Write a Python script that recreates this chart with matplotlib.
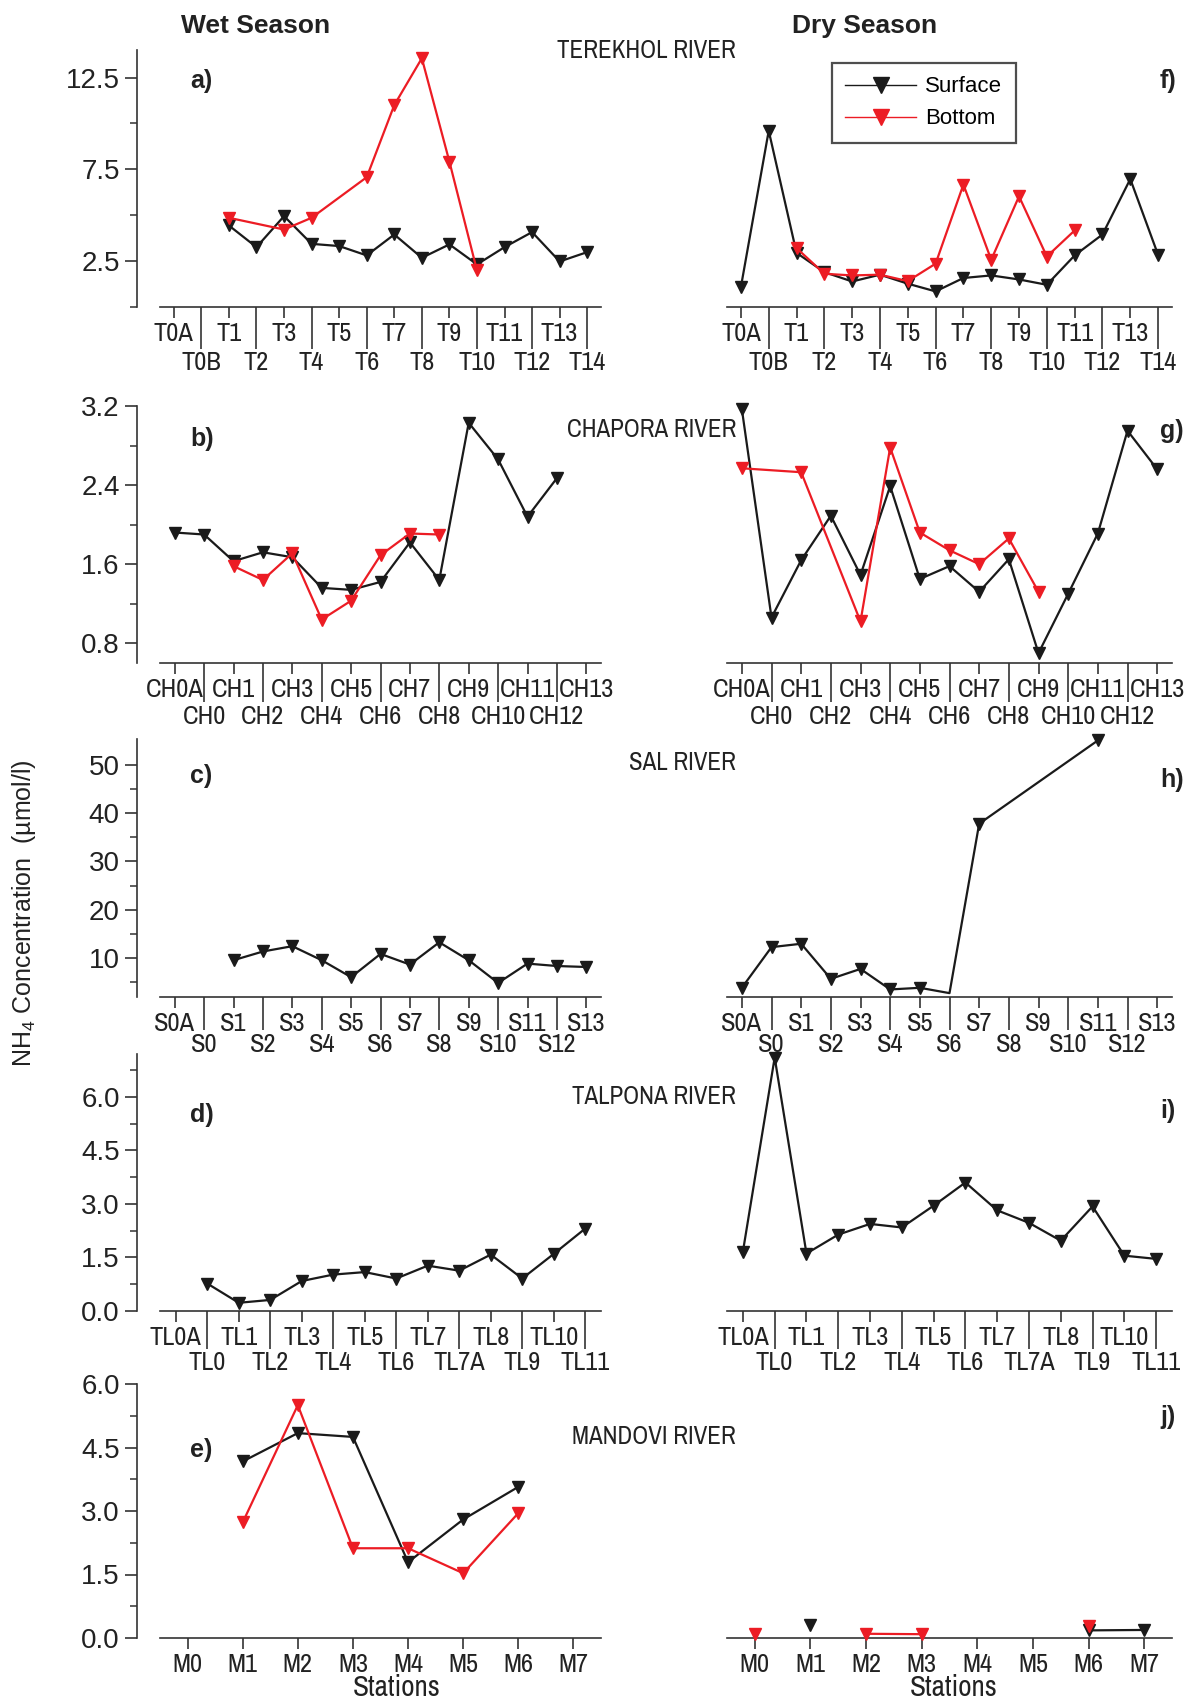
#!/usr/bin/env python3
"""
NH4 concentration along five estuaries - wet vs dry season panels
"""

import numpy as np
import matplotlib
matplotlib.use('Agg')
import matplotlib.pyplot as plt
from matplotlib import font_manager
from matplotlib.lines import Line2D
from matplotlib.ticker import FixedLocator, FixedFormatter

nan = np.nan

# station labels
T_STATIONS = ['T0A', 'T0B', 'T1', 'T2', 'T3', 'T4', 'T5', 'T6', 'T7', 'T8',
              'T9', 'T10', 'T11', 'T12', 'T13', 'T14']
CH_STATIONS = ['CH0A', 'CH0', 'CH1', 'CH2', 'CH3', 'CH4', 'CH5', 'CH6', 'CH7',
               'CH8', 'CH9', 'CH10', 'CH11', 'CH12', 'CH13']
S_STATIONS = ['S0A', 'S0', 'S1', 'S2', 'S3', 'S4', 'S5', 'S6', 'S7', 'S8',
              'S9', 'S10', 'S11', 'S12', 'S13']
TL_STATIONS = ['TL0A', 'TL0', 'TL1', 'TL2', 'TL3', 'TL4', 'TL5', 'TL6', 'TL7',
               'TL7A', 'TL8', 'TL9', 'TL10', 'TL11']
M_STATIONS = ['M0', 'M1', 'M2', 'M3', 'M4', 'M5', 'M6', 'M7']

# Terekhol
TEREKHOL_WET_SURF = [nan, nan, 4.44, 3.26, 4.95, 3.44, 3.32, 2.81, 3.95, 2.68, 3.41, 2.32, 3.26, 4.08, 2.48, 2.99]
TEREKHOL_WET_BOT = [nan, nan, 4.86, nan, 4.22, 4.86, nan, 7.07, 11.0, 13.55, 7.92, 1.99, nan, nan, nan, nan]
TEREKHOL_DRY_SURF = [1.09, 9.60, 2.95, 1.90, 1.39, 1.76, 1.27, 0.85, 1.58, 1.72, 1.50, 1.21, 2.81, 3.95, 6.97, 2.84]
TEREKHOL_DRY_BOT = [nan, nan, 3.21, 1.81, 1.72, 1.76, 1.41, 2.36, 6.67, 2.57, 6.03, 2.75, 4.17, nan, nan, nan]

# Chapora
CHAPORA_WET_SURF = [1.92, 1.90, 1.63, 1.72, 1.67, 1.36, 1.34, 1.42, 1.82, 1.44, 3.03, 2.66, 2.08, 2.47, nan]
CHAPORA_WET_BOT = [nan, nan, 1.58, 1.44, 1.71, 1.04, 1.23, 1.69, 1.91, 1.90, nan, nan, nan, nan, nan]
CHAPORA_DRY_SURF = [3.17, 1.06, 1.64, 2.09, 1.49, 2.39, 1.45, 1.58, 1.32, 1.65, 0.70, 1.30, 1.91, 2.95, 2.56]
CHAPORA_DRY_BOT = [2.57, nan, 2.53, nan, 1.02, 2.78, 1.92, 1.74, 1.60, 1.86, 1.32, nan, nan, nan, nan]

# Sal (surface only)
SAL_WET_SURF = [nan, nan, 9.6, 11.4, 12.5, 9.6, 6.1, 10.9, 8.7, 13.3, 9.6, 4.9, 8.9, 8.4, 8.2]
SAL_DRY_SURF = [3.9, 12.3, 13.0, 5.75, 7.8, 3.56, 3.9, 2.8, 37.8, nan, nan, nan, 55.0, nan, nan]

# Talpona (surface only)
TALPONA_WET_SURF = [nan, 0.77, 0.23, 0.31, 0.84, 1.02, 1.09, 0.91, 1.27, 1.13, 1.58, 0.91, 1.60, 2.31]
TALPONA_DRY_SURF = [1.66, 7.1, 1.61, 2.14, 2.44, 2.34, 2.95, 3.60, 2.82, 2.47, 1.97, 2.93, 1.55, 1.46]

# Mandovi
MANDOVI_WET_SURF = [nan, 4.17, 4.84, 4.75, 1.79, 2.80, 3.57, nan]
MANDOVI_WET_BOT = [nan, 2.73, 5.50, 2.12, 2.12, 1.53, 2.95, nan]
MANDOVI_DRY_SURF = [nan, 0.31, nan, nan, nan, nan, 0.18, 0.19]
MANDOVI_DRY_BOT = [0.10, nan, 0.10, 0.09, nan, nan, 0.29, nan]

BLACK = '#1a1a1a'
RED = '#ec1c24'

FIG_W, FIG_H = 1200, 1700

SANS = 'Liberation Sans'
# 좁은 글꼴이 있으면 사용, 없으면 일반 글꼴을 작게
narrow_names = [f.name for f in font_manager.fontManager.ttflist
                if 'Narrow' in f.name or 'Condensed' in f.name]
if narrow_names:
    NARROW, STATION_SIZE, RIVER_SIZE = sorted(narrow_names)[0], 19, 18
else:
    NARROW, STATION_SIZE, RIVER_SIZE = SANS, 16, 16

plt.rcParams['font.family'] = [SANS, 'DejaVu Sans']
plt.rcParams['mathtext.default'] = 'regular'


def fx(px):
    return px / FIG_W


def fy(py):
    return 1 - py / FIG_H


def plot_series(ax, values, color, connect=True, hidden=()):
    """한 계열 그리기 (NaN은 건너뛰거나 선을 끊음)"""
    x = np.arange(len(values))
    y = np.asarray(values, dtype=float)
    if connect:
        keep = ~np.isnan(y)
        x, y = x[keep], y[keep]
    marks = [i for i in range(len(x)) if x[i] not in hidden and not np.isnan(y[i])]
    ax.plot(x, y, color=color, lw=1.6, marker='v', ms=9, markevery=marks,
            clip_on=False, zorder=3)


def setup_xaxis(ax, labels, long_len, two_rows=True, left_gap=0):
    n = len(labels)
    if two_rows:
        upper = list(range(0, n, 2))
        lower = list(range(1, n, 2))
        ax.xaxis.set_major_locator(FixedLocator(upper))
        ax.xaxis.set_major_formatter(FixedFormatter([labels[i] for i in upper]))
        ax.xaxis.set_minor_locator(FixedLocator(lower))
        ax.xaxis.set_minor_formatter(FixedFormatter([labels[i] for i in lower]))
        ax.tick_params(axis='x', which='minor', length=long_len, width=1.1, pad=2,
                       labelsize=STATION_SIZE, labelfontfamily=NARROW, colors='#222222')
    else:
        ax.xaxis.set_major_locator(FixedLocator(list(range(n))))
        ax.xaxis.set_major_formatter(FixedFormatter(labels))
        ax.xaxis.set_minor_locator(FixedLocator([]))
    ax.tick_params(axis='x', which='major', length=8, width=1.1, pad=3,
                   labelsize=STATION_SIZE, labelfontfamily=NARROW, colors='#222222')
    ax.spines['bottom'].set_bounds(-0.5, n - 0.5)
    ax.set_xlim(-0.5 - left_gap * n / 441, n - 0.5)


rows = [
    dict(stations=T_STATIONS, wet=(TEREKHOL_WET_SURF, TEREKHOL_WET_BOT),
         dry=(TEREKHOL_DRY_SURF, TEREKHOL_DRY_BOT), ylim=(0, 14),
         major=[2.5, 7.5, 12.5], minor=[0, 5, 10], fmt='{:.1f}',
         top=50, bottom=307, river='TEREKHOL RIVER', river_y=50,
         tags=('a)', 'f)'), tag_y=(81, 81), long=30),
    dict(stations=CH_STATIONS, wet=(CHAPORA_WET_SURF, CHAPORA_WET_BOT),
         dry=(CHAPORA_DRY_SURF, CHAPORA_DRY_BOT), ylim=(0.6, 3.2),
         major=[0.8, 1.6, 2.4, 3.2], minor=[1.2, 2.0, 2.8], fmt='{:.1f}',
         top=406, bottom=663, river='CHAPORA RIVER', river_y=429,
         tags=('b)', 'g)'), tag_y=(439, 431), long=28),
    dict(stations=S_STATIONS, wet=(SAL_WET_SURF, None),
         dry=(SAL_DRY_SURF, None), ylim=(2, 55.3),
         major=[10, 20, 30, 40, 50], minor=[5, 15, 25, 35, 45], fmt='{:.0f}',
         top=739, bottom=997, river='SAL RIVER', river_y=762,
         tags=('c)', 'h)'), tag_y=(776, 780), long=24, hidden_dry=(7,)),
    dict(stations=TL_STATIONS, wet=(TALPONA_WET_SURF, None),
         dry=(TALPONA_DRY_SURF, None), ylim=(0, 7.2),
         major=[0, 1.5, 3.0, 4.5, 6.0], minor=[0.75, 2.25, 3.75, 5.25, 6.75], fmt='{:.1f}',
         top=1054, bottom=1311, river='TALPONA RIVER', river_y=1097,
         tags=('d)', 'i)'), tag_y=(1115, 1111), long=27),
    dict(stations=M_STATIONS, wet=(MANDOVI_WET_SURF, MANDOVI_WET_BOT),
         dry=(MANDOVI_DRY_SURF, MANDOVI_DRY_BOT), ylim=(0, 6),
         major=[0, 1.5, 3.0, 4.5, 6.0], minor=[0.75, 2.25, 3.75, 5.25], fmt='{:.1f}',
         top=1384, bottom=1638, river='MANDOVI RIVER', river_y=1436,
         tags=('e)', 'j)'), tag_y=(1450, 1417), long=8, single=True, gaps_dry=True),
]

fig = plt.figure(figsize=(FIG_W / 100, FIG_H / 100), dpi=100)

LEFT = (137, 601)
RIGHT = (727, 1172)

for r in rows:
    h = (r['bottom'] - r['top']) / FIG_H
    b = fy(r['bottom'])
    ax_w = fig.add_axes([fx(LEFT[0]), b, fx(LEFT[1] - LEFT[0]), h])
    ax_d = fig.add_axes([fx(RIGHT[0]), b, fx(RIGHT[1] - RIGHT[0]), h])

    two_rows = not r.get('single', False)

    for ax in (ax_w, ax_d):
        for side in ('top', 'right'):
            ax.spines[side].set_visible(False)
        ax.spines['bottom'].set_linewidth(1.2)
        ax.spines['bottom'].set_color('#333333')
        ax.set_ylim(*r['ylim'])
        ax.patch.set_alpha(0)

    # 우기 (wet)
    setup_xaxis(ax_w, r['stations'], r['long'], two_rows, left_gap=23)
    ax_w.spines['left'].set_linewidth(1.2)
    ax_w.spines['left'].set_color('#333333')
    ax_w.yaxis.set_major_locator(FixedLocator(r['major']))
    ax_w.yaxis.set_major_formatter(FixedFormatter([r['fmt'].format(v) for v in r['major']]))
    ax_w.yaxis.set_minor_locator(FixedLocator(r['minor']))
    ax_w.tick_params(axis='y', which='major', length=9, width=1.1, labelsize=20,
                     colors='#222222')
    ax_w.tick_params(axis='y', which='minor', length=5, width=1.1, colors='#333333')

    surf, bot = r['wet']
    plot_series(ax_w, surf, BLACK)
    if bot is not None:
        plot_series(ax_w, bot, RED)

    # 건기 (dry)
    setup_xaxis(ax_d, r['stations'], r['long'], two_rows)
    ax_d.spines['left'].set_visible(False)
    ax_d.set_yticks([])
    surf, bot = r['dry']
    connect = not r.get('gaps_dry', False)
    plot_series(ax_d, surf, BLACK, connect=connect, hidden=r.get('hidden_dry', ()))
    if bot is not None:
        plot_series(ax_d, bot, RED, connect=connect)

    fig.text(fx(736), fy(r['river_y']), r['river'], ha='right', va='center',
             fontsize=RIVER_SIZE, family=NARROW, color='#222222')
    fig.text(fx(190), fy(r['tag_y'][0]), r['tags'][0], ha='left', va='center',
             fontsize=18, fontweight='bold', color='#222222')
    fig.text(fx(1160), fy(r['tag_y'][1]), r['tags'][1], ha='left', va='center',
             fontsize=18, fontweight='bold', color='#222222')

# 제목 및 축 라벨
fig.text(fx(256), fy(26), 'Wet Season', ha='center', va='center', fontsize=19,
         fontweight='bold', color='#222222')
fig.text(fx(865), fy(26), 'Dry Season', ha='center', va='center', fontsize=19,
         fontweight='bold', color='#222222')
fig.text(fx(24), fy(913), 'NH$_4$ Concentration  (\u00b5mol/l)', rotation=90,
         ha='center', va='center', fontsize=18, color='#222222')
fig.text(fx(397), fy(1688), 'Stations', ha='center', va='center', fontsize=21,
         family=NARROW, color='#222222')
fig.text(fx(954), fy(1688), 'Stations', ha='center', va='center', fontsize=21,
         family=NARROW, color='#222222')

# 범례
handles = [Line2D([], [], color=BLACK, lw=1, marker='v', ms=12),
           Line2D([], [], color=RED, lw=1, marker='v', ms=12)]
leg = fig.legend(handles, ['Surface', 'Bottom'], loc='upper left',
                 bbox_to_anchor=(fx(832), fy(63)), bbox_transform=fig.transFigure,
                 borderaxespad=0, fancybox=False, fontsize=16, handlelength=3.2,
                 borderpad=0.6, labelspacing=0.5, handletextpad=0.4, numpoints=1)
leg.get_frame().set_edgecolor('#222222')
leg.get_frame().set_linewidth(1.6)

plt.savefig('out.png', dpi=100)
plt.close()
